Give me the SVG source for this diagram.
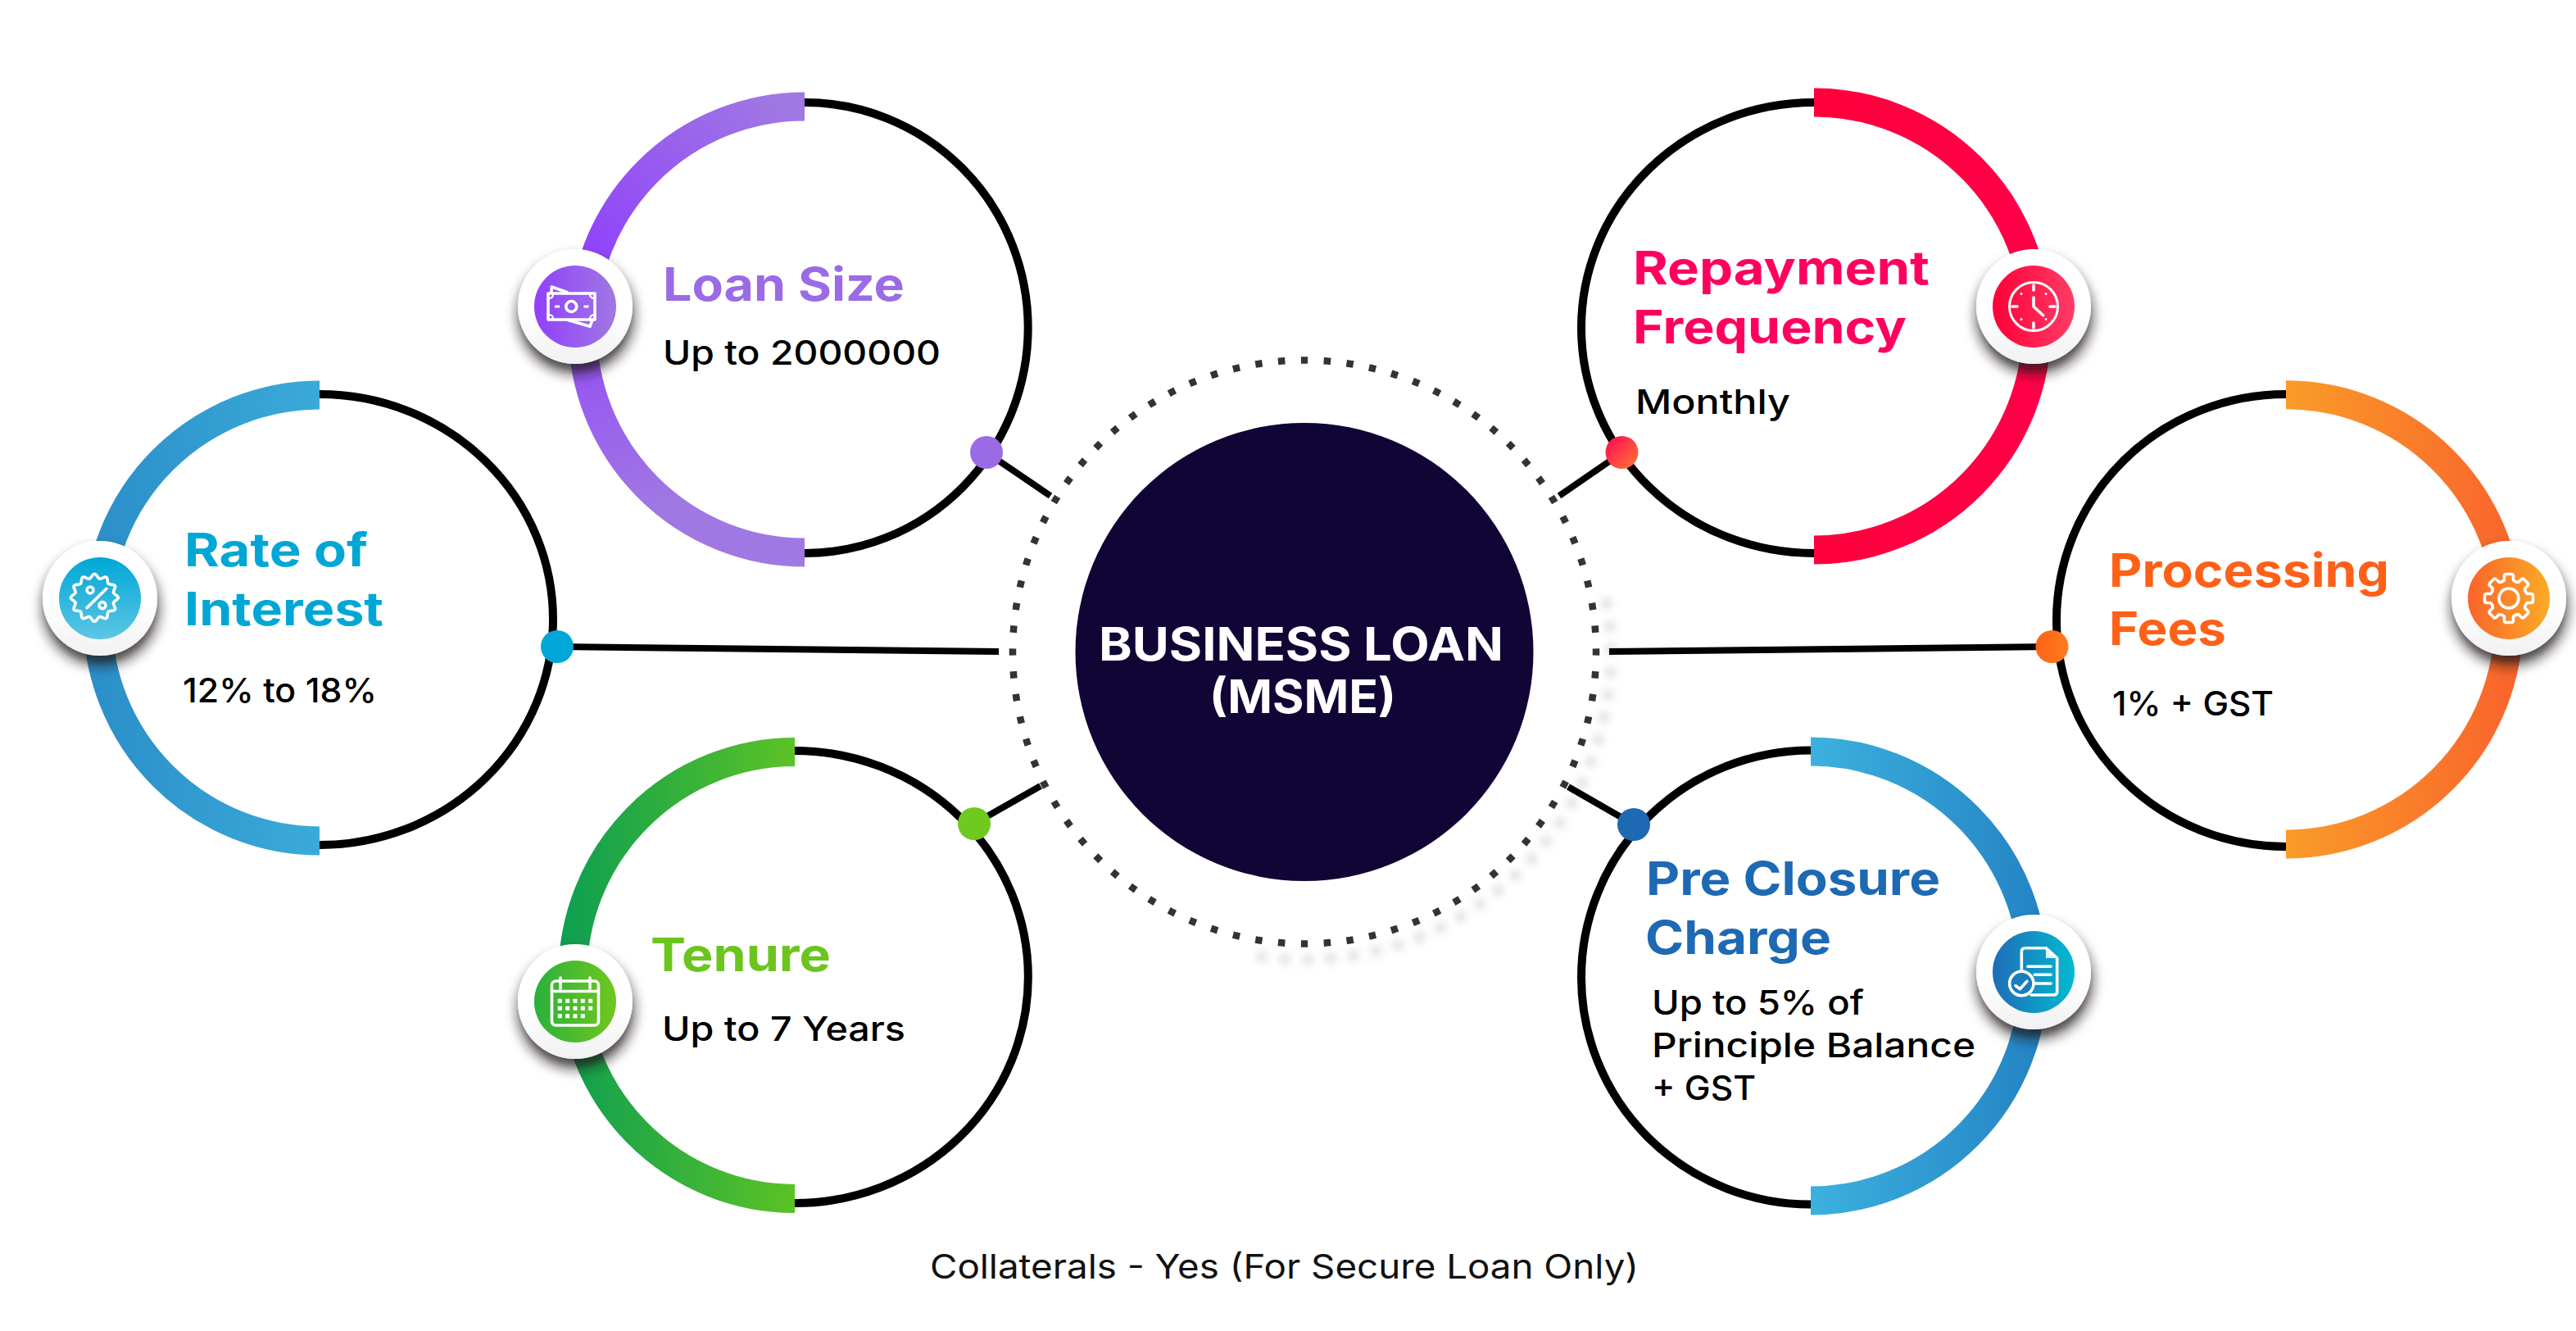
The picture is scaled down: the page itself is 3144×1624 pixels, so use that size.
<svg xmlns="http://www.w3.org/2000/svg" xmlns:xlink="http://www.w3.org/1999/xlink" width="3144" height="1624" viewBox="0 0 3144 1624">
<style>
text{font-family:Inter,"Noto Sans","Liberation Sans",sans-serif}
.t{font-size:56px;font-weight:700}
.v{font-size:41px;font-weight:500;fill:#000}
.c{font-size:56px;font-weight:700;fill:#fff}
.f{font-size:41px;font-weight:400;fill:#111}
.b{fill:none;stroke:#000;stroke-width:10}
.a{fill:none;stroke-width:35}
.l{fill:none;stroke:#000;stroke-width:8}
.w{fill:none;stroke:#fff;stroke-width:3.6;stroke-linecap:round;stroke-linejoin:round}
.wf{fill:#fff}
</style>
<defs>
<filter id="sh" x="-40%" y="-40%" width="180%" height="190%"><feDropShadow dx="1" dy="11" stdDeviation="8" flood-color="#241414" flood-opacity=".85"/></filter>
<filter id="bl" x="-10%" y="-10%" width="120%" height="120%"><feGaussianBlur stdDeviation="5"/></filter>
<linearGradient id="disc" x1="0" y1="0" x2="0" y2="1"><stop offset=".55" stop-color="#fff"/><stop offset="1" stop-color="#f1f1f3"/></linearGradient>
<radialGradient id="gLoan" gradientUnits="userSpaceOnUse" cx="700" cy="320" r="320"><stop offset="0" stop-color="#8f3ffb"/><stop offset="1" stop-color="#a078e3"/></radialGradient>
<linearGradient id="gRate" gradientUnits="userSpaceOnUse" x1="105" y1="0" x2="390" y2="0"><stop offset="0" stop-color="#2b8ec8"/><stop offset="1" stop-color="#3aaad9"/></linearGradient>
<linearGradient id="gTen" gradientUnits="userSpaceOnUse" x1="680" y1="0" x2="970" y2="0"><stop offset="0" stop-color="#0c9e52"/><stop offset="1" stop-color="#5cc225"/></linearGradient>
<linearGradient id="gRep" gradientUnits="userSpaceOnUse" x1="2214" y1="0" x2="2500" y2="0"><stop offset="0" stop-color="#ff003c"/><stop offset="1" stop-color="#ff0048"/></linearGradient>
<linearGradient id="gPro" gradientUnits="userSpaceOnUse" x1="2790" y1="0" x2="3080" y2="0"><stop offset="0" stop-color="#fa9c28"/><stop offset="1" stop-color="#f9622c"/></linearGradient>
<linearGradient id="gPre" gradientUnits="userSpaceOnUse" x1="2210" y1="0" x2="2500" y2="0"><stop offset="0" stop-color="#3cb1df"/><stop offset="1" stop-color="#2382c3"/></linearGradient>
<linearGradient id="iLoan"><stop offset="0" stop-color="#9040fb"/><stop offset="1" stop-color="#a078e3"/></linearGradient>
<linearGradient id="iRate" x1="0" y1="0" x2="0" y2="1"><stop offset="0" stop-color="#00a7d6"/><stop offset="1" stop-color="#5dc6e4"/></linearGradient>
<linearGradient id="iTen"><stop offset="0" stop-color="#2bb03c"/><stop offset="1" stop-color="#70c71f"/></linearGradient>
<linearGradient id="iRep"><stop offset="0" stop-color="#ff0038"/><stop offset="1" stop-color="#ff3c66"/></linearGradient>
<linearGradient id="iPro"><stop offset="0" stop-color="#fa642c"/><stop offset="1" stop-color="#fbab26"/></linearGradient>
<linearGradient id="iPre"><stop offset="0" stop-color="#1f6db7"/><stop offset="1" stop-color="#03bad0"/></linearGradient>
<linearGradient id="dRep" x1="0" y1="0" x2="1" y2="1"><stop offset="0" stop-color="#ff0558"/><stop offset="1" stop-color="#ff7a30"/></linearGradient>
<linearGradient id="dPro"><stop offset="0" stop-color="#ff6218"/><stop offset="1" stop-color="#ff7c1e"/></linearGradient>
<path id="lobe" class="w" d="M23.2-6.2C23.85-3.8 29-2.5 29 0C29 2.5 23.85 3.8 23.2 6.2"/>
<path id="tooth" class="w" d="M20.3-8.4Q21.8-6 22.3-5.5L27-5.5Q29.5-5.5 29.5-3L29.5 3Q29.5 5.5 27 5.5L22.3 5.5Q21.8 6 20.3 8.4"/>
<circle id="disk" r="70" fill="url(#disc)" filter="url(#sh)"/>
</defs>
<rect width="3144" height="1624" fill="#fff"/>

<g id="connectors">
<line class="l" x1="1204" y1="552" x2="1282" y2="605"/>
<line class="l" x1="680" y1="789" x2="1219" y2="795"/>
<line class="l" x1="1189" y1="1005" x2="1270" y2="959"/>
<line class="l" x1="1980" y1="552" x2="1903" y2="605"/>
<line class="l" x1="2504" y1="789" x2="1964" y2="795"/>
<line class="l" x1="1994" y1="1006" x2="1914" y2="960"/>
</g>

<g id="center">
<path d="M1960 730A374 374 0 0 1 1526 1165" fill="none" stroke="#000" stroke-opacity=".11" stroke-width="13" stroke-dasharray="13 15" filter="url(#bl)"/>
<circle cx="1592" cy="795.5" r="356" fill="none" stroke="#333" stroke-width="8.5" pathLength="80" stroke-dasharray=".3 .7" stroke-dashoffset=".15"/>
<circle cx="1592" cy="795.5" r="279.5" fill="#110536"/>
<text class="c" x="1341" y="806" textLength="494" lengthAdjust="spacingAndGlyphs">BUSINESS LOAN</text>
<text class="c" x="1476" y="870" textLength="228" lengthAdjust="spacingAndGlyphs">(MSME)</text>
</g>

<g id="loan-size">
<path class="b" d="M982 125A272.7 275 0 0 1 982 675"/>
<path class="a" stroke="url(#gLoan)" d="M982 130A271 272 0 0 0 982 674"/>
<circle cx="1204" cy="552" r="20" fill="#9b6be6"/>
<text class="t" fill="#9b6be6" x="809" y="367" textLength="295" lengthAdjust="spacingAndGlyphs">Loan Size</text>
<text class="v" x="809" y="445" textLength="339" lengthAdjust="spacingAndGlyphs">Up to 2000000</text>
<g transform="translate(702 374)">
<use xlink:href="#disk" href="#disk"/>
<circle r="50" fill="url(#iLoan)"/>
<rect class="w" x="-33" y="-16" width="57" height="32" stroke-linecap="butt"/>
<circle class="w" cx="-4.7" r="6.5"/>
<path class="w" d="M-29-18L-28.7-24L-10-17.5M-8.7 16.5L18 24.3L20.7 17"/>
<path class="wf" d="M-25-1.500h6v3h-6zM10.500-1.500h6v3h-6z"/>
<path class="w" style="stroke-width:2.2" d="M-32-10Q-27-10-27-15M24-10Q18-10 18-15M-32 10Q-27 10-27 15M24 10Q18 10 18 15"/>
</g>
</g>

<g id="rate-of-interest">
<path class="b" d="M390 481A285 275 0 0 1 390 1031"/>
<path class="a" stroke="url(#gRate)" d="M390 482A271 272 0 0 0 390 1026"/>
<circle cx="680" cy="789" r="20" fill="#00a7d6"/>
<text class="t" fill="#00a7d6" x="225" y="691" textLength="224" lengthAdjust="spacingAndGlyphs">Rate of</text>
<text class="t" fill="#00a7d6" x="225" y="763" textLength="243" lengthAdjust="spacingAndGlyphs">Interest</text>
<text class="v" x="223" y="857" textLength="237" lengthAdjust="spacingAndGlyphs">12% to 18%</text>
<g transform="translate(122 730)">
<use xlink:href="#disk" href="#disk"/>
<circle r="50" fill="url(#iRate)"/>
<g transform="translate(-6.7 -.7)">
<use href="#lobe"/><use href="#lobe" transform="rotate(30)"/><use href="#lobe" transform="rotate(60)"/><use href="#lobe" transform="rotate(90)"/><use href="#lobe" transform="rotate(120)"/><use href="#lobe" transform="rotate(150)"/><use href="#lobe" transform="rotate(180)"/><use href="#lobe" transform="rotate(210)"/><use href="#lobe" transform="rotate(240)"/><use href="#lobe" transform="rotate(270)"/><use href="#lobe" transform="rotate(300)"/><use href="#lobe" transform="rotate(330)"/>
<circle class="w" cx="-5.3" cy="-9.3" r="4"/><circle class="w" cx="9.700" cy="9.300" r="4"/>
<path class="w" d="M14.700-11L-9.300 12.300"/>
</g>
</g>
</g>

<g id="tenure">
<path class="b" d="M970 916A285 276 0 0 1 970 1468"/>
<path class="a" stroke="url(#gTen)" d="M970 917.500A271 272.500 0 0 0 970 1462.500"/>
<circle cx="1189" cy="1005" r="20" fill="#6fc91e"/>
<text class="t" fill="#6cc51f" x="794" y="1185" textLength="220" lengthAdjust="spacingAndGlyphs">Tenure</text>
<text class="v" x="808" y="1270" textLength="297" lengthAdjust="spacingAndGlyphs">Up to 7 Years</text>
<g transform="translate(702 1222)">
<use xlink:href="#disk" href="#disk"/>
<circle r="50" fill="url(#iTen)"/>
<rect class="w" x="-28.500" y="-25" width="57" height="54" rx="5"/>
<path class="w" d="M-28.500-12.500H28.500M-18-29V-16M18-29V-16"/>
<path class="wf" d="M-21.200-3.200h5v5h-5zM-11.800-3.200h5v5h-5zM-2.500-3.200h5v5h-5zM6.800-3.200h5v5h-5zM16.200-3.200h5v5h-5zM-21.200 5.800h5v5h-5zM-11.800 5.800h5v5h-5zM-2.500 5.800h5v5h-5zM6.800 5.800h5v5h-5zM16.200 5.800h5v5h-5zM-21.200 15.200h5v5h-5zM-11.800 15.200h5v5h-5zM-2.500 15.200h5v5h-5zM6.800 15.200h5v5h-5z"/>
</g>
</g>

<g id="repayment-frequency">
<path class="b" d="M2214 125A284 275 0 0 0 2214 675"/>
<path class="a" stroke="url(#gRep)" d="M2214 125A272 273 0 0 1 2214 671"/>
<circle cx="1979.500" cy="552" r="20" fill="url(#dRep)"/>
<text class="t" fill="#ff0060" x="1993" y="347" textLength="362" lengthAdjust="spacingAndGlyphs">Repayment</text>
<text class="t" fill="#ff0060" x="1993" y="419" textLength="334" lengthAdjust="spacingAndGlyphs">Frequency</text>
<text class="v" x="1996" y="505" textLength="189" lengthAdjust="spacingAndGlyphs">Monthly</text>
<g transform="translate(2482 374)">
<use xlink:href="#disk" href="#disk"/>
<circle r="50" fill="url(#iRep)"/>
<circle class="w" r="29.500" style="stroke-width:3"/>
<path class="w" d="M0-11V0L11.600 10.700M0-26V-20M0 26V20M-26 0H-20M26 0H20"/>
<path class="w" style="stroke-width:3" d="M-15-15.500h.01M15-15.500h.01M-15 15.500h.01M15 15.500h.01"/>
</g>
</g>

<g id="processing-fees">
<path class="b" d="M2790 481A280 276 0 0 0 2790 1033"/>
<path class="a" stroke="url(#gPro)" d="M2790 481.700A272 274 0 0 1 2790 1030"/>
<circle cx="2504.500" cy="789" r="20" fill="url(#dPro)"/>
<text class="t" fill="#ff6018" x="2574" y="716" textLength="342" lengthAdjust="spacingAndGlyphs">Processing</text>
<text class="t" fill="#ff6018" x="2574" y="787" textLength="143" lengthAdjust="spacingAndGlyphs">Fees</text>
<text class="v" x="2578" y="873" textLength="197" lengthAdjust="spacingAndGlyphs">1% + GST</text>
<g transform="translate(3062 730)">
<use xlink:href="#disk" href="#disk"/>
<circle r="50" fill="url(#iPro)"/>
<use href="#tooth"/><use href="#tooth" transform="rotate(45)"/><use href="#tooth" transform="rotate(90)"/><use href="#tooth" transform="rotate(135)"/><use href="#tooth" transform="rotate(180)"/><use href="#tooth" transform="rotate(225)"/><use href="#tooth" transform="rotate(270)"/><use href="#tooth" transform="rotate(315)"/>
<circle class="w" r="12"/>
</g>
</g>

<g id="pre-closure-charge">
<path class="b" d="M2210 915.500A280 277 0 0 0 2210 1469.500"/>
<path class="a" stroke="url(#gPre)" d="M2210 917A272 274 0 0 1 2210 1465"/>
<circle cx="1994" cy="1006" r="20" fill="#1e69b4"/>
<text class="t" fill="#1e69b4" x="2009" y="1092" textLength="359" lengthAdjust="spacingAndGlyphs">Pre Closure</text>
<text class="t" fill="#1e69b4" x="2008" y="1164" textLength="227" lengthAdjust="spacingAndGlyphs">Charge</text>
<text class="v" x="2016" y="1238" textLength="259" lengthAdjust="spacingAndGlyphs">Up to 5% of</text>
<text class="v" x="2016" y="1290" textLength="395" lengthAdjust="spacingAndGlyphs">Principle Balance</text>
<text class="v" x="2016" y="1342" textLength="127" lengthAdjust="spacingAndGlyphs">+ GST</text>
<g transform="translate(2482 1186)">
<use xlink:href="#disk" href="#disk"/>
<circle r="50" fill="url(#iPre)"/>
<path class="w" d="M-14.700 0V-25Q-14.700-29.300-10-29.300H15L28.700-17V24Q28.700 28 24 28H-3"/>
<path class="wf" d="M15-29.300L28.700-17H15z" style="opacity:.9"/>
<path class="w" d="M-7-6.700H21M1.300 3.300H21M1.300 14H21"/>
<circle class="w" cx="-14.700" cy="14" r="14.700" style="fill:#1c7cbd"/>
<path class="w" d="M-22 16.700L-16.700 20.700L-8 11.300"/>
</g>
</g>

<text id="footer" class="f" x="1135" y="1560" textLength="865" lengthAdjust="spacingAndGlyphs">Collaterals - Yes (For Secure Loan Only)</text>
</svg>
